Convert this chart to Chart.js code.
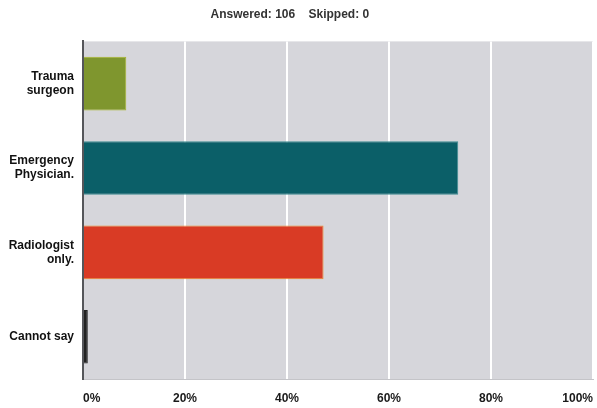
<!DOCTYPE html>
<html>
<head>
<meta charset="utf-8">
<script src="https://cdn.jsdelivr.net/npm/chart.js@4/dist/chart.umd.min.js"></script>
<style>
  html, body { margin: 0; padding: 0; background: #fff; }
  #wrap { width: 597px; height: 408px; }
</style>
</head>
<body>
<div id="wrap"><canvas id="chart"></canvas></div>
<script>
// survey answers, percent of 106 respondents
const categories = [['Trauma', 'surgeon'], ['Emergency', 'Physician.'], ['Radiologist', 'only.'], 'Cannot say'];
const percents = [8.49, 73.58, 47.17, 0.94];
const barColors = ['#7f962e', '#0b5f68', '#d93b25', '#222222'];
const barBorders = ['#a9b62a', '#3f8c92', '#ee8a2a', '#222222'];
const tickValues = [0, 20, 40, 60, 80, 100];
const titleText = 'Answered: 106    Skipped: 0    ';

const boldFont = { family: 'Liberation Sans', size: 12, weight: 'bold' };

// grey panel behind the bars
const panelBg = {
    id: 'panelBg',
    beforeDraw(chart) {
        const a = chart.chartArea;
        const ctx = chart.ctx;
        ctx.save();
        ctx.fillStyle = '#d6d6db';
        ctx.fillRect(a.left, a.top, a.right - a.left, a.bottom - a.top);
        ctx.restore();
    }
};

const ctx = document.getElementById('chart').getContext('2d');
new Chart(ctx, {
    type: 'bar',
    data: {
        labels: categories,
        datasets: [{
            data: percents,
            backgroundColor: barColors,
            borderColor: barBorders,
            borderWidth: 1,
            categoryPercentage: 1,
            barPercentage: 0.635
        }]
    },
    options: {
        indexAxis: 'y',
        responsive: true,
        maintainAspectRatio: false,
        animation: false,
        layout: { padding: { left: 0, right: 4, top: 0, bottom: 4 } },
        plugins: {
            legend: { display: false },
            tooltip: { enabled: false },
            title: {
                display: true,
                text: titleText,
                color: '#333',
                font: boldFont,
                padding: { top: 7, bottom: 20 }
            }
        },
        scales: {
            x: {
                min: 0,
                max: 100,
                afterBuildTicks(scale) {
                    scale.ticks = tickValues.map(v => ({ value: v }));
                },
                afterFit(scale) {
                    scale.height = 25;
                    scale.paddingLeft = 0;
                    scale.paddingRight = 0;
                },
                grid: { color: '#ffffff', lineWidth: 2, drawTicks: false },
                border: { display: true, color: '#c4c4c8', width: 1 },
                ticks: {
                    align: 'inner',
                    padding: 12,
                    color: '#1a1a1a',
                    font: boldFont,
                    callback: v => v + '%'
                }
            },
            y: {
                afterFit(scale) {
                    scale.width = 83;
                    scale.paddingTop = 0;
                    scale.paddingBottom = 0;
                },
                grid: { display: false, drawTicks: false },
                border: { display: true, color: '#55565a', width: 2 },
                ticks: {
                    padding: 9,
                    color: '#111',
                    font: { family: 'Liberation Sans', size: 12, weight: 'bold', lineHeight: 1.17 }
                }
            }
        }
    },
    plugins: [panelBg]
});
</script>
</body>
</html>
